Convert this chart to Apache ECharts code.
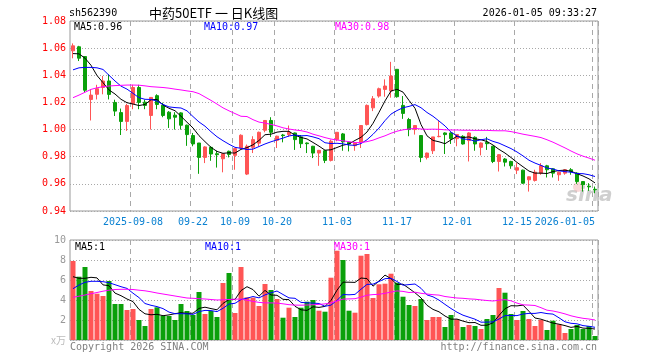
<!DOCTYPE html>
<html>
<head>
<meta charset="utf-8">
<script src="https://cdn.jsdelivr.net/npm/echarts/dist/echarts.min.js"></script>
<style>html,body{margin:0;padding:0;background:#fff}#c{width:660px;height:360px}</style>
</head>
<body>
<div id="c"></div>
<script>
const dates = [
'2025-08-25','2025-08-26','2025-08-27','2025-08-28','2025-08-29',
'2025-09-01','2025-09-02','2025-09-03','2025-09-04','2025-09-05',
'2025-09-08','2025-09-09','2025-09-10','2025-09-11','2025-09-12',
'2025-09-15','2025-09-16','2025-09-17','2025-09-18','2025-09-19',
'2025-09-22','2025-09-23','2025-09-24','2025-09-25','2025-09-26',
'2025-09-29','2025-09-30','2025-10-09','2025-10-10',
'2025-10-13','2025-10-14','2025-10-15','2025-10-16','2025-10-17',
'2025-10-20','2025-10-21','2025-10-22','2025-10-23','2025-10-24',
'2025-10-27','2025-10-28','2025-10-29','2025-10-30','2025-10-31',
'2025-11-03','2025-11-04','2025-11-05','2025-11-06','2025-11-07',
'2025-11-10','2025-11-11','2025-11-12','2025-11-13','2025-11-14',
'2025-11-17','2025-11-18','2025-11-19','2025-11-20','2025-11-21',
'2025-11-24','2025-11-25','2025-11-26','2025-11-27','2025-11-28',
'2025-12-01','2025-12-02','2025-12-03','2025-12-04','2025-12-05',
'2025-12-08','2025-12-09','2025-12-10','2025-12-11','2025-12-12',
'2025-12-15','2025-12-16','2025-12-17','2025-12-18','2025-12-19',
'2025-12-22','2025-12-23','2025-12-24','2025-12-25','2025-12-26',
'2025-12-29','2025-12-30','2025-12-31','2026-01-05'];

const tickDates = ['2025-09-08','2025-09-22','2025-10-09','2025-10-20','2025-11-03','2025-11-17','2025-12-01','2025-12-15','2026-01-05'];
const tickText  = ['2025-09-08','09-22','10-09','10-20','11-03','11-17','12-01','12-15','2026-01-05'];

const opens = [
1.0580,1.0610,1.0538,1.0222,1.0260,1.0310,1.0358,1.0200,1.0125,1.0060,
1.0190,1.0310,1.0202,1.0104,1.0250,1.0180,1.0128,1.0106,1.0123,1.0032,
0.9956,0.9901,0.9795,0.9869,0.9822,0.9785,0.9840,0.9810,0.9864,0.9672,
0.9869,0.9900,0.9995,1.0067,0.9921,0.9960,0.9963,0.9975,0.9946,0.9901,
0.9877,0.9827,0.9844,0.9773,0.9926,0.9968,0.9906,0.9881,0.9906,1.0037,
1.0160,1.0247,1.0296,1.0284,1.0444,1.0178,1.0074,1.0000,0.9956,0.9795,
0.9844,0.9948,0.9975,0.9975,0.9933,0.9950,0.9919,0.9943,0.9869,0.9906,
0.9877,0.9765,0.9783,0.9765,0.9701,0.9701,0.9630,0.9625,0.9679,0.9733,
0.9711,0.9667,0.9679,0.9704,0.9679,0.9617,0.9583,0.9560];
const closes = [
1.0617,1.0526,1.0290,1.0254,1.0301,1.0358,1.0259,1.0136,1.0060,1.0177,
1.0310,1.0200,1.0178,1.0237,1.0185,1.0104,1.0079,1.0091,1.0032,0.9963,
0.9894,0.9795,0.9872,0.9820,0.9815,0.9822,0.9817,0.9860,0.9958,0.9877,
0.9926,0.9980,1.0067,0.9980,0.9951,0.9955,0.9980,0.9926,0.9896,0.9896,
0.9827,0.9847,0.9773,0.9914,0.9980,0.9909,0.9894,0.9901,1.0030,1.0178,
1.0227,1.0301,1.0321,1.0395,1.0242,1.0119,1.0000,1.0030,0.9795,0.9827,
0.9946,0.9950,0.9963,0.9933,0.9963,0.9894,0.9975,0.9894,0.9901,0.9896,
0.9765,0.9815,0.9760,0.9733,0.9719,0.9605,0.9652,0.9686,0.9733,0.9704,
0.9679,0.9686,0.9704,0.9691,0.9617,0.9593,0.9578,0.9556];
const lows = [
1.0525,1.0505,1.0275,1.0067,1.0222,1.0260,1.0222,1.0100,0.9960,0.9990,
1.0150,1.0150,1.0150,1.0000,1.0150,1.0091,1.0012,1.0000,1.0000,0.9880,
0.9877,0.9674,0.9753,0.9770,0.9720,0.9685,0.9795,0.9704,0.9860,0.9665,
0.9827,0.9877,0.9980,0.9946,0.9864,0.9906,0.9946,0.9850,0.9864,0.9827,
0.9790,0.9733,0.9753,0.9765,0.9914,0.9844,0.9839,0.9844,0.9864,1.0030,
1.0136,1.0235,1.0242,1.0235,1.0235,1.0079,0.9951,0.9963,0.9760,0.9780,
0.9820,0.9943,0.9820,0.9894,0.9877,0.9889,0.9765,0.9844,0.9810,0.9850,
0.9753,0.9691,0.9728,0.9711,0.9672,0.9600,0.9543,0.9617,0.9667,0.9647,
0.9647,0.9622,0.9667,0.9667,0.9600,0.9543,0.9548,0.9531];
const highs = [
1.0635,1.0617,1.0540,1.0296,1.0330,1.0395,1.0407,1.0220,1.0155,1.0190,
1.0330,1.0330,1.0220,1.0240,1.0260,1.0198,1.0136,1.0128,1.0128,1.0037,
0.9975,0.9901,0.9877,0.9877,0.9844,0.9825,0.9845,0.9860,0.9965,0.9890,
0.9951,0.9985,1.0070,1.0091,0.9955,0.9968,1.0030,0.9978,0.9960,0.9905,
0.9880,0.9850,0.9848,0.9926,0.9980,0.9975,0.9906,0.9906,1.0030,1.0185,
1.0247,1.0309,1.0370,1.0499,1.0444,1.0247,1.0086,1.0030,0.9960,0.9830,
0.9946,1.0062,0.9980,0.9980,0.9965,0.9958,0.9980,0.9950,0.9905,0.9946,
0.9880,0.9818,0.9790,0.9770,0.9753,0.9705,0.9655,0.9704,0.9753,0.9740,
0.9715,0.9690,0.9708,0.9716,0.9686,0.9620,0.9605,0.9580];

const ma5 = [
1.0560,1.0558,1.0526,1.0474,1.0398,1.0346,1.0292,1.0262,1.0223,1.0198,
1.0188,1.0177,1.0185,1.0220,1.0222,1.0181,1.0157,1.0139,1.0098,1.0054,
1.0012,0.9955,0.9911,0.9869,0.9839,0.9825,0.9829,0.9827,0.9854,0.9867,
0.9888,0.9920,0.9962,0.9966,0.9981,0.9987,0.9987,0.9958,0.9942,0.9931,
0.9905,0.9878,0.9848,0.9851,0.9868,0.9885,0.9894,0.9920,0.9943,0.9982,
1.0046,1.0127,1.0211,1.0284,1.0297,1.0276,1.0215,1.0157,1.0037,0.9954,
0.9920,0.9910,0.9896,0.9924,0.9951,0.9941,0.9946,0.9932,0.9925,0.9912,
0.9886,0.9854,0.9827,0.9794,0.9758,0.9726,0.9694,0.9679,0.9679,0.9676,
0.9691,0.9698,0.9701,0.9693,0.9675,0.9658,0.9637,0.9607];
const ma10 = [
1.0440,1.0455,1.0458,1.0458,1.0455,1.0443,1.0400,1.0358,1.0320,1.0298,
1.0267,1.0235,1.0223,1.0222,1.0210,1.0185,1.0167,1.0162,1.0159,1.0138,
1.0096,1.0056,1.0025,0.9984,0.9947,0.9918,0.9892,0.9869,0.9862,0.9853,
0.9856,0.9875,0.9894,0.9910,0.9924,0.9937,0.9953,0.9960,0.9954,0.9956,
0.9946,0.9933,0.9903,0.9897,0.9899,0.9895,0.9886,0.9884,0.9897,0.9925,
0.9965,1.0011,1.0066,1.0114,1.0140,1.0161,1.0171,1.0184,1.0161,1.0126,
1.0098,1.0063,1.0027,0.9981,0.9953,0.9930,0.9928,0.9914,0.9925,0.9932,
0.9913,0.9900,0.9880,0.9860,0.9835,0.9806,0.9774,0.9753,0.9736,0.9717,
0.9709,0.9696,0.9690,0.9686,0.9676,0.9675,0.9667,0.9654];
const ma30 = [
1.0235,1.0254,1.0275,1.0296,1.0308,1.0316,1.0321,1.0324,1.0326,1.0328,
1.0328,1.0327,1.0322,1.0316,1.0313,1.0310,1.0305,1.0298,1.0292,1.0285,
1.0279,1.0265,1.0240,1.0215,1.0188,1.0160,1.0138,1.0118,1.0098,1.0096,
1.0073,1.0055,1.0048,1.0038,1.0027,1.0013,1.0004,0.9997,0.9992,0.9982,
0.9966,0.9954,0.9941,0.9930,0.9923,0.9917,0.9911,0.9904,0.9904,0.9911,
0.9922,0.9939,0.9954,0.9973,0.9988,0.9998,1.0004,1.0009,1.0004,1.0002,
1.0003,1.0002,0.9998,0.9997,0.9997,0.9995,0.9995,0.9994,0.9994,0.9994,
0.9992,0.9991,0.9991,0.9985,0.9976,0.9966,0.9958,0.9950,0.9941,0.9925,
0.9907,0.9886,0.9865,0.9842,0.9821,0.9804,0.9790,0.9774];

const volumes = [
7.90,6.33,7.30,4.90,4.63,4.40,5.90,3.60,3.60,3.00,
3.10,2.00,1.40,3.10,3.27,2.40,2.40,2.00,3.60,2.90,
2.50,4.80,2.60,2.90,2.30,5.70,6.70,2.70,7.30,4.27,
4.23,3.40,5.60,5.00,4.10,2.23,3.23,2.30,3.23,3.83,
4.00,2.93,2.83,6.23,8.93,8.00,2.93,2.73,8.43,8.60,
4.20,5.57,5.63,6.63,5.73,4.33,3.50,3.40,4.10,2.00,
2.30,2.30,1.30,2.50,2.07,1.30,1.50,1.40,1.10,2.10,
2.50,5.20,4.73,2.60,2.00,2.90,2.10,1.40,2.00,1.00,
1.93,1.57,0.70,1.10,1.50,1.10,1.40,0.40];
const vma5 = [
6.33,6.17,6.17,6.27,6.21,5.51,5.43,4.69,4.43,4.10,
3.84,3.06,2.62,2.52,2.57,2.43,2.51,2.63,2.73,2.66,
2.68,3.16,3.28,3.14,3.02,3.66,4.04,4.06,4.94,5.33,
5.04,4.38,4.96,4.50,4.47,4.07,4.03,3.37,3.02,2.96,
3.32,3.26,3.36,3.96,4.98,5.78,5.78,5.76,6.20,6.14,
5.38,5.91,6.49,6.13,5.55,5.58,5.16,4.72,4.21,3.47,
3.06,2.82,2.40,2.08,2.09,1.89,1.73,1.75,1.47,1.48,
1.72,2.46,3.13,3.43,3.41,3.49,2.87,2.20,2.08,1.88,
1.69,1.58,1.44,1.26,1.36,1.19,1.16,1.10];
const vma10 = [
5.13,5.50,5.77,5.87,5.87,5.83,5.73,5.53,5.33,5.16,
4.68,4.24,3.65,3.47,3.34,3.14,2.79,2.63,2.63,2.62,
2.56,2.84,2.96,2.94,2.84,3.17,3.60,3.67,4.04,4.18,
4.35,4.21,4.51,4.72,4.90,4.55,4.21,4.17,3.76,3.72,
3.69,3.65,3.37,3.49,3.97,4.55,4.52,4.56,5.08,5.56,
5.58,5.85,6.13,6.17,5.85,5.48,5.54,5.60,5.17,4.51,
4.32,3.99,3.56,3.15,2.78,2.48,2.28,2.08,1.78,1.79,
1.81,2.10,2.44,2.45,2.44,2.60,2.66,2.66,2.75,2.64,
2.59,2.22,1.82,1.67,1.62,1.44,1.37,1.27];
const vma30 = [
4.27,4.38,4.50,4.63,4.75,4.88,4.98,5.05,5.07,5.07,
5.05,4.98,4.92,4.82,4.70,4.60,4.50,4.40,4.30,4.20,
4.17,4.13,4.10,4.05,4.00,4.02,4.05,4.08,4.10,3.98,
3.86,3.76,3.71,3.71,3.69,3.62,3.53,3.49,3.48,3.50,
3.53,3.56,3.61,3.72,3.90,4.09,4.11,4.13,4.29,4.48,
4.54,4.57,4.67,4.79,4.91,4.86,4.75,4.78,4.67,4.60,
4.53,4.49,4.35,4.27,4.20,4.17,4.11,4.08,4.01,3.95,
3.90,3.98,4.04,3.92,3.69,3.52,3.49,3.45,3.23,2.98,
2.90,2.77,2.61,2.42,2.28,2.17,2.10,2.00];

const priceTicks = [0.94, 1.08, 0.02];
const volTicks = [0, 10, 2];
const headerLeft = 'sh562390';
const headerTitle = '中药50ETF 一 日K线图';
const headerTime = '2026-01-05 09:33:27';
const priceMaText = ['MA5:0.96', 'MA10:0.97', 'MA30:0.98'];
const volMaText = ['MA5:1', 'MA10:1', 'MA30:1'];
const footLeft = 'Copyright 2026 SINA.COM';
const footRight = 'http://finance.sina.com.cn';

const UP = '#ff5555', DOWN = '#0aa00a';
const MONO = '"DejaVu Sans Mono", monospace';
const tickIdx = tickDates.map(d => dates.indexOf(d));
const showTick = (i) => tickIdx.indexOf(i) >= 0;

const kData = opens.map((o, i) => [o, closes[i], lows[i], highs[i]]);
const vData = volumes.map((v, i) => ({ value: v, itemStyle: { color: closes[i] >= opens[i] ? UP : DOWN } }));

const vSplit = { show: true, interval: showTick, lineStyle: { color: '#a8a8a8', type: [5, 4], width: 1 } };
const hSplit = { show: true, lineStyle: { color: '#a8a8a8', type: [1, 2], width: 1 } };

function line(data, color, xi, yi) {
  return { type: 'line', data, xAxisIndex: xi, yAxisIndex: yi, showSymbol: false, symbol: 'none',
    lineStyle: { color, width: 1 }, itemStyle: { color }, silent: true, z: 3 };
}
function txt(text, x, y, color, align, font) {
  return { type: 'text', z: 10, style: { text, x, y, fill: color, align: align || 'left', verticalAlign: 'middle', font: font || ('10px ' + MONO) } };
}

const chart = echarts.init(document.getElementById('c'), null, { renderer: 'canvas' });
chart.setOption({
  animation: false,
  backgroundColor: '#ffffff',
  grid: [
    { left: 70, right: 62, top: 21, height: 190, show: true, borderColor: '#999', borderWidth: 1 },
    { left: 70, right: 62, top: 240, height: 100, show: true, borderColor: '#999', borderWidth: 1 }
  ],
  xAxis: [
    { type: 'category', gridIndex: 0, data: dates, boundaryGap: true,
      axisLine: { show: false }, axisTick: { show: false },
      axisLabel: { interval: showTick, color: '#0c82d2', fontFamily: MONO, fontSize: 10, margin: 6,
        alignMaxLabel: 'right', formatter: (v) => tickText[tickDates.indexOf(v)] || '' },
      splitLine: vSplit },
    { type: 'category', gridIndex: 1, data: dates, boundaryGap: true,
      axisLine: { show: false }, axisTick: { show: false }, axisLabel: { show: false },
      splitLine: vSplit }
  ],
  yAxis: [
    { type: 'value', gridIndex: 0, min: priceTicks[0], max: priceTicks[1], interval: priceTicks[2],
      axisLine: { show: false }, axisTick: { show: false },
      axisLabel: { color: '#ff0000', fontFamily: MONO, fontSize: 10, margin: 4, formatter: (v) => v.toFixed(2) },
      splitLine: hSplit },
    { type: 'value', gridIndex: 1, min: volTicks[0], max: volTicks[1], interval: volTicks[2],
      axisLine: { show: false }, axisTick: { show: false },
      axisLabel: { color: '#999', fontFamily: MONO, fontSize: 10, margin: 4,
        formatter: (v) => v === 0 ? '{u|x万}' : String(v),
        rich: { u: { color: '#bbb', fontSize: 10, fontFamily: '"Noto Sans CJK SC", sans-serif' } } },
      splitLine: hSplit }
  ],
  series: [
    { type: 'candlestick', xAxisIndex: 0, yAxisIndex: 0, data: kData, barWidth: 4, silent: true,
      itemStyle: { color: UP, color0: DOWN, borderColor: UP, borderColor0: DOWN, borderWidth: 1 } },
    line(ma5, '#000000', 0, 0),
    line(ma10, '#0000ff', 0, 0),
    line(ma30, '#ff00ff', 0, 0),
    { type: 'bar', xAxisIndex: 1, yAxisIndex: 1, data: vData, barWidth: 5, silent: true },
    line(vma5, '#000000', 1, 1),
    line(vma10, '#0000ff', 1, 1),
    line(vma30, '#ff00ff', 1, 1)
  ],
  graphic: [
    { type: 'text', z: 1, style: { text: 'sina', x: 566, y: 196, fill: '#cfcfcf', verticalAlign: 'middle', font: 'italic bold 20px "DejaVu Sans", sans-serif' } },
    { type: 'circle', z: 1, shape: { cx: 578, cy: 187, r: 5 }, style: { fill: 'rgba(240,150,150,0.35)' } },
    txt(headerLeft, 69, 13, '#000'),
    txt(headerTitle, 149, 13, '#000', 'left', '13px "Noto Sans CJK SC", sans-serif'),
    txt(headerTime, 597, 13, '#000', 'right'),
    txt(priceMaText[0], 74, 27, '#000'),
    txt(priceMaText[1], 204, 27, '#0000ff'),
    txt(priceMaText[2], 335, 27, '#ff00ff'),
    txt(volMaText[0], 75, 247, '#000'),
    txt(volMaText[1], 205, 247, '#0000ff'),
    txt(volMaText[2], 334, 247, '#ff00ff'),
    txt(footLeft, 70, 347, '#808080'),
    txt(footRight, 597, 347, '#808080', 'right')
  ]
});
</script>
</body>
</html>
